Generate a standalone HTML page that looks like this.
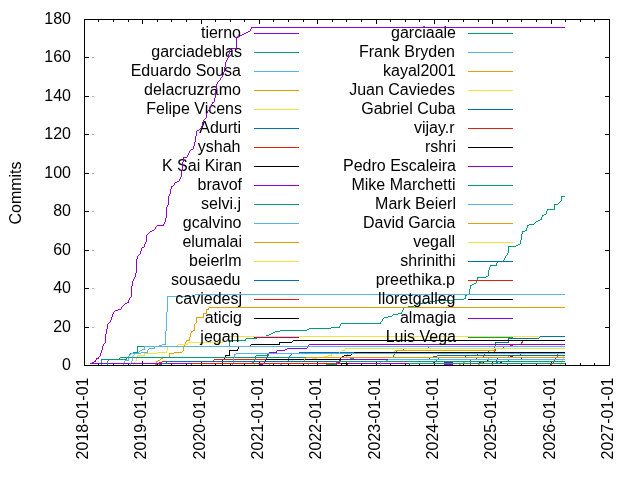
<!DOCTYPE html><html><head><meta charset="utf-8"><title>Commits</title><style>html,body{margin:0;padding:0;background:#fff}svg{display:block;shape-rendering:crispEdges}text{shape-rendering:auto;font-family:"Liberation Sans",Arial,sans-serif}</style></head><body><svg width="640" height="480" viewBox="0 0 640 480" font-size="16px" fill="#000"><rect width="640" height="480" fill="#fff"/><path d="M478 19h1v3h-1zM478 363h1v3h-1zM84 19h1v5h-1zM84 361h1v5h-1zM361 19h1v3h-1zM361 363h1v3h-1zM609 19h1v5h-1zM609 361h1v5h-1zM244 19h1v3h-1zM244 363h1v3h-1zM551 19h1v5h-1zM551 361h1v5h-1zM215 19h1v3h-1zM215 363h1v3h-1zM434 19h1v5h-1zM434 361h1v5h-1zM98 19h1v3h-1zM98 363h1v3h-1zM142 19h1v5h-1zM142 361h1v5h-1zM201 19h1v5h-1zM201 361h1v5h-1zM113 19h1v3h-1zM113 363h1v3h-1zM419 19h1v3h-1zM419 363h1v3h-1zM390 19h1v3h-1zM390 363h1v3h-1zM157 19h1v3h-1zM157 363h1v3h-1zM128 19h1v3h-1zM128 363h1v3h-1zM273 19h1v3h-1zM273 363h1v3h-1zM346 19h1v3h-1zM346 363h1v3h-1zM376 19h1v5h-1zM376 361h1v5h-1zM580 19h1v3h-1zM580 363h1v3h-1zM259 19h1v5h-1zM259 361h1v5h-1zM288 19h1v3h-1zM288 363h1v3h-1zM463 19h1v3h-1zM463 363h1v3h-1zM565 19h1v3h-1zM565 363h1v3h-1zM303 19h1v3h-1zM303 363h1v3h-1zM448 19h1v3h-1zM448 363h1v3h-1zM186 19h1v3h-1zM186 363h1v3h-1zM521 19h1v3h-1zM521 363h1v3h-1zM536 19h1v3h-1zM536 363h1v3h-1zM492 19h1v5h-1zM492 361h1v5h-1zM230 19h1v3h-1zM230 363h1v3h-1zM405 19h1v3h-1zM405 363h1v3h-1zM171 19h1v3h-1zM171 363h1v3h-1zM317 19h1v5h-1zM317 361h1v5h-1zM594 19h1v3h-1zM594 363h1v3h-1zM507 19h1v3h-1zM507 363h1v3h-1zM332 19h1v3h-1zM332 363h1v3h-1zM84 57h5v1h-5zM605 57h5v1h-5zM84 96h5v1h-5zM605 96h5v1h-5zM84 134h5v1h-5zM605 134h5v1h-5zM84 173h5v1h-5zM605 173h5v1h-5zM84 211h5v1h-5zM605 211h5v1h-5zM84 250h5v1h-5zM605 250h5v1h-5zM84 288h5v1h-5zM605 288h5v1h-5zM84 327h5v1h-5zM605 327h5v1h-5z" fill="#000"/><text x="71" y="370" text-anchor="end">0</text><path d="M92 327h2v1h-2z" fill="#aaa"/><text x="71" y="332" text-anchor="end">20</text><path d="M92 288h2v1h-2z" fill="#aaa"/><text x="71" y="293" text-anchor="end">40</text><path d="M92 250h2v1h-2z" fill="#aaa"/><text x="71" y="255" text-anchor="end">60</text><path d="M92 211h2v1h-2z" fill="#aaa"/><text x="71" y="216" text-anchor="end">80</text><path d="M92 173h2v1h-2z" fill="#aaa"/><text x="71" y="178" text-anchor="end">100</text><path d="M92 134h2v1h-2z" fill="#aaa"/><text x="71" y="139" text-anchor="end">120</text><path d="M92 96h2v1h-2z" fill="#aaa"/><text x="71" y="101" text-anchor="end">140</text><path d="M92 57h2v1h-2z" fill="#aaa"/><text x="71" y="62" text-anchor="end">160</text><text x="71" y="24" text-anchor="end">180</text><text transform="translate(88,459.4) rotate(-90)" >2018-01-01</text><text transform="translate(146,459.4) rotate(-90)" >2019-01-01</text><text transform="translate(205,459.4) rotate(-90)" >2020-01-01</text><text transform="translate(263,459.4) rotate(-90)" >2021-01-01</text><text transform="translate(321,459.4) rotate(-90)" >2022-01-01</text><text transform="translate(380,459.4) rotate(-90)" >2023-01-01</text><text transform="translate(438,459.4) rotate(-90)" >2024-01-01</text><text transform="translate(496,459.4) rotate(-90)" >2025-01-01</text><text transform="translate(555,459.4) rotate(-90)" >2026-01-01</text><text transform="translate(613,459.4) rotate(-90)" >2027-01-01</text><text transform="translate(21,193) rotate(-90)" text-anchor="middle">Commits</text><text x="241" y="38" text-anchor="end">tierno</text><path d="M254 33h45v1h-45z" fill="#9400d3"/><text x="242" y="57" text-anchor="end">garciadeblas</text><path d="M521 234h1v6h-1zM229 340h1v7h-1zM470 285h1v4h-1zM137 346h1v7h-1zM520 240h1v4h-1zM469 289h1v5h-1zM489 267h1v3h-1zM508 246h1v7h-1zM465 295h1v4h-1zM477 277h1v3h-1zM488 270h1v6h-1zM496 263h1v3h-1zM554 204h1v6h-1zM101 359h1v7h-1zM476 280h1v3h-1zM561 196h1v5h-1zM403 307h1v3h-1zM527 225h1v3h-1zM546 211h1v3h-1zM541 217h1v3h-1zM522 231h1v3h-1zM526 228h1v3h-1zM254 52h45v1h-45zM562 196h3v1h-3zM560 201h1v1h-1zM559 202h1v1h-1zM558 203h1v1h-1zM555 204h3v1h-3zM547 209h7v1h-7zM547 210h1v1h-1zM544 214h2v1h-2zM542 215h2v1h-2zM542 216h1v1h-1zM540 219h1v1h-1zM538 220h2v1h-2zM536 221h2v1h-2zM535 222h1v1h-1zM534 223h1v1h-1zM529 224h5v1h-5zM528 225h1v1h-1zM525 230h1v1h-1zM523 231h2v1h-2zM518 244h2v1h-2zM516 245h2v1h-2zM509 246h7v1h-7zM507 253h1v1h-1zM507 254h1v1h-1zM506 255h1v1h-1zM505 256h1v1h-1zM505 257h1v1h-1zM504 258h1v1h-1zM504 259h1v1h-1zM503 260h1v1h-1zM497 261h7v1h-7zM497 262h1v1h-1zM490 265h6v1h-6zM490 266h1v1h-1zM486 276h2v1h-2zM478 277h8v1h-8zM474 283h2v1h-2zM472 284h2v1h-2zM471 285h1v1h-1zM467 294h2v1h-2zM466 295h1v1h-1zM464 298h1v1h-1zM454 299h10v1h-10zM435 300h19v1h-19zM430 301h5v1h-5zM423 302h7v1h-7zM418 303h5v1h-5zM416 304h2v1h-2zM414 305h2v1h-2zM408 306h6v1h-6zM404 307h4v1h-4zM402 310h1v1h-1zM402 311h1v1h-1zM401 312h1v1h-1zM398 313h4v1h-4zM393 314h5v1h-5zM392 315h1v1h-1zM388 316h4v1h-4zM384 317h4v1h-4zM383 318h1v1h-1zM382 319h1v1h-1zM382 320h1v1h-1zM381 321h1v1h-1zM380 322h1v1h-1zM341 323h40v1h-40zM340 324h1v1h-1zM340 325h1v1h-1zM339 326h1v1h-1zM331 327h9v1h-9zM309 328h22v1h-22zM307 329h2v1h-2zM280 330h27v1h-27zM275 331h5v1h-5zM273 332h2v1h-2zM271 333h2v1h-2zM269 334h2v1h-2zM266 335h3v1h-3zM257 336h10v1h-10zM256 337h1v1h-1zM246 338h11v1h-11zM245 339h1v1h-1zM230 340h16v1h-16zM138 346h91v1h-91zM133 352h4v1h-4zM130 353h4v1h-4zM129 354h1v1h-1zM129 355h1v1h-1zM128 356h1v1h-1zM120 357h9v1h-9zM119 358h1v1h-1zM102 359h17v1h-17z" fill="#009e73"/><text x="241" y="76" text-anchor="end">Eduardo Sousa</text><path d="M165 331h1v14h-1zM166 312h1v19h-1zM144 346h1v4h-1zM128 356h1v5h-1zM167 296h1v16h-1zM123 363h1v3h-1zM254 71h45v1h-45zM195 294h370v1h-370zM194 295h1v1h-1zM168 296h27v1h-27zM162 344h3v1h-3zM159 345h3v1h-3zM145 346h14v1h-14zM142 349h2v1h-2zM140 350h2v1h-2zM139 351h1v1h-1zM138 352h1v1h-1zM131 353h7v1h-7zM130 354h1v1h-1zM129 355h1v1h-1zM125 360h3v1h-3zM124 361h1v1h-1zM124 362h1v1h-1z" fill="#56b4e9"/><text x="241" y="95" text-anchor="end">delacruzramo</text><path d="M169 353h1v5h-1zM196 317h1v6h-1zM183 347h1v4h-1zM203 313h1v5h-1zM194 324h1v7h-1zM206 309h1v5h-1zM190 333h1v4h-1zM189 337h1v4h-1zM185 342h1v3h-1zM254 90h45v1h-45zM209 307h356v1h-356zM208 308h1v1h-1zM207 309h2v1h-2zM204 313h2v1h-2zM197 317h6v1h-6zM195 323h1v1h-1zM193 330h1v1h-1zM191 331h2v1h-2zM191 332h1v1h-1zM186 340h3v1h-3zM186 341h1v1h-1zM184 345h1v1h-1zM184 346h1v1h-1zM182 351h1v1h-1zM174 352h8v1h-8zM170 353h4v1h-4zM508 356h1v1h-1zM163 357h6v1h-6zM161 358h2v1h-2zM488 358h1v1h-1zM160 359h1v1h-1zM158 360h2v1h-2zM488 360h1v1h-1zM156 361h2v1h-2zM156 362h1v1h-1zM463 362h2v1h-2zM481 362h2v1h-2zM155 363h1v1h-1zM155 364h1v1h-1zM459 364h2v1h-2zM478 364h2v1h-2z" fill="#e69f00"/><text x="242" y="114" text-anchor="end">Felipe Vicens</text><path d="M222 339h1v4h-1zM563 355h1v5h-1zM560 363h1v3h-1zM144 353h1v3h-1zM562 359h1v3h-1zM167 346h1v5h-1zM136 357h1v4h-1zM561 361h1v3h-1zM254 109h45v1h-45zM224 336h341v1h-341zM223 337h1v1h-1zM223 338h1v1h-1zM188 342h34v1h-34zM187 343h1v1h-1zM178 344h10v1h-10zM177 345h1v1h-1zM168 346h9v1h-9zM166 351h1v1h-1zM157 352h10v1h-10zM145 353h12v1h-12zM137 355h7v1h-7zM564 355h1v1h-1zM137 356h1v1h-1zM135 361h1v1h-1zM134 362h1v1h-1zM547 362h1v1h-1zM134 363h1v1h-1zM133 364h1v1h-1zM133 365h1v1h-1z" fill="#f0e442"/><text x="241" y="133" text-anchor="end">Adurti</text><path d="M488 350h1v3h-1zM494 347h1v4h-1zM495 342h1v5h-1zM159 363h1v3h-1zM288 358h1v4h-1zM166 361h1v3h-1zM508 338h1v5h-1zM254 128h45v1h-45zM540 336h25v1h-25zM539 337h1v1h-1zM509 338h30v1h-30zM496 342h12v1h-12zM489 350h5v1h-5zM299 352h189v1h-189zM292 353h7v1h-7zM291 354h1v1h-1zM477 354h1v1h-1zM290 355h1v1h-1zM289 356h1v1h-1zM465 356h1v1h-1zM289 357h1v1h-1zM429 358h1v1h-1zM438 358h1v1h-1zM436 360h1v1h-1zM508 360h1v1h-1zM167 361h121v1h-121zM433 362h1v1h-1zM496 362h2v1h-2zM160 363h6v1h-6zM492 364h1v1h-1zM507 364h1v1h-1z" fill="#0072b2"/><text x="240.5" y="152" text-anchor="end">yshah</text><path d="M476 357h1v3h-1zM522 340h1v3h-1zM494 350h1v3h-1zM503 346h1v3h-1zM555 357h1v3h-1zM521 342h1v3h-1zM554 359h1v3h-1zM470 359h1v7h-1zM557 353h1v5h-1zM553 361h1v3h-1zM484 352h1v4h-1zM495 348h1v3h-1zM483 355h1v3h-1zM254 147h45v1h-45zM523 340h42v1h-42zM513 344h8v1h-8zM510 345h3v1h-3zM504 346h6v1h-6zM496 348h7v1h-7zM485 352h9v1h-9zM558 353h7v1h-7zM477 357h6v1h-6zM556 357h1v1h-1zM471 359h5v1h-5zM162 361h308v1h-308zM471 361h82v1h-82zM555 361h10v1h-10zM159 362h3v1h-3zM156 363h3v1h-3zM552 363h1v1h-1zM156 364h1v1h-1zM550 364h2v1h-2zM549 365h1v1h-1z" fill="#e51e10"/><text x="242" y="171" text-anchor="end">K Sai Kiran</text><path d="M279 342h1v3h-1zM229 350h1v6h-1zM222 360h1v6h-1zM254 166h45v1h-45zM293 340h272v1h-272zM292 341h1v1h-1zM280 342h12v1h-12zM251 344h28v1h-28zM250 345h1v1h-1zM239 346h12v1h-12zM238 347h1v1h-1zM238 348h1v1h-1zM237 349h1v1h-1zM230 350h8v1h-8zM225 355h4v1h-4zM225 356h1v1h-1zM224 357h1v1h-1zM224 358h1v1h-1zM521 358h1v1h-1zM223 359h1v1h-1zM487 360h1v1h-1zM483 362h1v1h-1zM492 362h1v1h-1zM500 362h2v1h-2z" fill="#000000"/><text x="242" y="190" text-anchor="end">bravof</text><path d="M264 361h1v3h-1zM267 354h1v3h-1zM254 185h45v1h-45zM309 344h256v1h-256zM308 345h1v1h-1zM308 346h1v1h-1zM307 347h1v1h-1zM287 348h20v1h-20zM285 349h2v1h-2zM277 350h8v1h-8zM276 351h1v1h-1zM269 352h8v1h-8zM268 353h1v1h-1zM266 357h1v1h-1zM266 358h1v1h-1zM265 359h1v1h-1zM265 360h1v1h-1zM90 363h174v1h-174zM265 363h300v1h-300zM259 364h4v1h-4zM258 365h1v1h-1z" fill="#9400d3"/><text x="241" y="209" text-anchor="end">selvi.j</text><path d="M107 361h1v5h-1zM403 348h1v3h-1zM428 346h1v3h-1zM393 355h1v3h-1zM254 204h45v1h-45zM429 346h136v1h-136zM404 348h24v1h-24zM396 350h7v1h-7zM396 351h1v1h-1zM395 352h1v1h-1zM395 353h1v1h-1zM394 354h1v1h-1zM127 357h266v1h-266zM126 358h1v1h-1zM108 359h19v1h-19zM108 360h1v1h-1z" fill="#009e73"/><text x="241.5" y="228" text-anchor="end">gcalvino</text><path d="M130 363h1v3h-1zM132 356h1v5h-1zM147 350h1v3h-1zM254 223h45v1h-45zM155 346h410v1h-410zM154 347h1v1h-1zM149 348h6v1h-6zM148 349h1v1h-1zM141 352h6v1h-6zM135 353h6v1h-6zM134 354h1v1h-1zM133 355h1v1h-1zM131 361h1v1h-1zM131 362h1v1h-1z" fill="#56b4e9"/><text x="242" y="247" text-anchor="end">elumalai</text><path d="M347 353h1v3h-1zM494 348h1v3h-1zM346 355h1v3h-1zM394 351h1v3h-1zM254 242h45v1h-45zM495 348h70v1h-70zM395 350h99v1h-99zM348 353h46v1h-46z" fill="#e69f00"/><text x="241.5" y="266" text-anchor="end">beierlm</text><path d="M259 361h1v3h-1zM254 363h1v3h-1zM254 261h45v1h-45zM345 348h220v1h-220zM344 349h1v1h-1zM341 350h4v1h-4zM340 351h1v1h-1zM339 352h1v1h-1zM332 353h8v1h-8zM331 354h1v1h-1zM328 355h4v1h-4zM324 356h4v1h-4zM317 357h7v1h-7zM312 358h5v1h-5zM293 359h19v1h-19zM291 360h2v1h-2zM260 361h31v1h-31zM255 363h4v1h-4z" fill="#f0e442"/><text x="240.5" y="285" text-anchor="end">sousaedu</text><path d="M254 280h45v1h-45z" fill="#0072b2"/><text x="242" y="304" text-anchor="end">caviedesj</text><path d="M254 299h45v1h-45zM214 359h351v1h-351zM213 360h1v1h-1z" fill="#e51e10"/><text x="242" y="323" text-anchor="end">aticig</text><path d="M259 361h1v5h-1zM254 318h45v1h-45zM354 352h211v1h-211zM352 353h2v1h-2zM351 354h1v1h-1zM344 355h7v1h-7zM342 356h2v1h-2zM341 357h1v1h-1zM340 358h1v1h-1zM266 359h75v1h-75zM265 360h1v1h-1zM260 361h6v1h-6z" fill="#000000"/><text x="239.5" y="342" text-anchor="end">jegan</text><path d="M339 360h1v3h-1zM336 362h1v4h-1zM254 337h45v1h-45zM341 359h224v1h-224zM340 360h1v1h-1zM337 362h2v1h-2z" fill="#9400d3"/><text x="456" y="38" text-anchor="end">garciaale</text><path d="M255 356h1v4h-1zM268 353h1v3h-1zM468 33h45v1h-45zM269 353h296v1h-296zM256 355h12v1h-12zM350 358h4v1h-4zM254 360h1v1h-1zM254 361h1v1h-1zM252 362h2v1h-2zM252 363h1v1h-1z" fill="#009e73"/><text x="455" y="57" text-anchor="end">Frank Bryden</text><path d="M233 358h1v6h-1zM234 354h1v4h-1zM468 52h45v1h-45zM236 353h329v1h-329zM235 354h1v1h-1zM232 364h1v1h-1zM269 364h1v1h-1zM280 364h2v1h-2zM308 364h1v1h-1zM232 365h1v1h-1zM269 365h1v1h-1zM308 365h1v1h-1z" fill="#56b4e9"/><text x="456" y="76" text-anchor="end">kayal2001</text><path d="M468 71h45v1h-45zM306 357h259v1h-259zM305 358h1v1h-1zM304 359h1v1h-1zM304 360h1v1h-1z" fill="#e69f00"/><text x="455" y="95" text-anchor="end">Juan Caviedes</text><path d="M468 90h45v1h-45z" fill="#f0e442"/><text x="455.5" y="114" text-anchor="end">Gabriel Cuba</text><path d="M166 361h1v3h-1zM468 109h45v1h-45zM437 355h128v1h-128zM433 356h4v1h-4zM167 361h398v1h-398zM162 363h4v1h-4zM159 364h3v1h-3z" fill="#0072b2"/><text x="454.5" y="133" text-anchor="end">vijay.r</text><path d="M468 128h45v1h-45zM347 361h218v1h-218zM346 362h1v1h-1zM192 363h155v1h-155zM191 364h1v1h-1zM190 365h1v1h-1z" fill="#e51e10"/><text x="456" y="152" text-anchor="end">rshri</text><path d="M341 363h1v3h-1zM468 147h45v1h-45zM342 363h223v1h-223z" fill="#000000"/><text x="456" y="171" text-anchor="end">Pedro Escaleira</text><path d="M468 166h45v1h-45zM348 363h217v1h-217zM347 364h1v1h-1zM346 365h1v1h-1z" fill="#9400d3"/><text x="455.5" y="190" text-anchor="end">Mike Marchetti</text><path d="M409 363h1v3h-1zM468 185h45v1h-45zM410 363h155v1h-155z" fill="#009e73"/><text x="456" y="209" text-anchor="end">Mark Beierl</text><path d="M380 361h1v5h-1zM468 204h45v1h-45zM388 359h177v1h-177zM386 360h2v1h-2zM381 361h6v1h-6z" fill="#56b4e9"/><text x="455.5" y="228" text-anchor="end">David Garcia</text><path d="M468 223h45v1h-45z" fill="#e69f00"/><text x="455" y="247" text-anchor="end">vegall</text><path d="M468 242h45v1h-45z" fill="#f0e442"/><text x="455.5" y="266" text-anchor="end">shrinithi</text><path d="M468 261h45v1h-45z" fill="#0072b2"/><text x="455" y="285" text-anchor="end">preethika.p</text><path d="M468 280h45v1h-45z" fill="#e51e10"/><text x="455.5" y="304" text-anchor="end">lloretgalleg</text><path d="M468 299h45v1h-45z" fill="#000000"/><text x="456" y="323" text-anchor="end">almagia</text><path d="M468 318h45v1h-45z" fill="#9400d3"/><text x="456" y="342" text-anchor="end">Luis Vega</text><path d="M468 337h45v1h-45zM336 361h229v1h-229zM336 362h1v1h-1zM335 363h1v1h-1zM326 364h10v1h-10zM324 365h2v1h-2z" fill="#009e73"/><path d="M137 256h1v3h-1zM181 171h1v6h-1zM136 259h1v14h-1zM193 146h1v3h-1zM128 300h1v3h-1zM141 248h1v3h-1zM132 281h1v5h-1zM144 244h1v3h-1zM168 196h1v9h-1zM202 122h1v4h-1zM214 98h1v4h-1zM140 251h1v3h-1zM196 131h1v5h-1zM225 62h1v5h-1zM107 324h1v5h-1zM229 50h1v4h-1zM131 286h1v11h-1zM112 314h1v3h-1zM111 317h1v3h-1zM135 273h1v4h-1zM102 346h1v4h-1zM224 67h1v5h-1zM236 37h1v12h-1zM216 84h1v6h-1zM106 329h1v5h-1zM215 90h1v8h-1zM195 136h1v6h-1zM146 235h1v7h-1zM166 207h1v11h-1zM170 189h1v5h-1zM183 157h1v5h-1zM182 162h1v9h-1zM194 142h1v4h-1zM228 54h1v4h-1zM171 186h1v3h-1zM101 350h1v3h-1zM105 334h1v9h-1zM165 218h1v4h-1zM223 72h1v3h-1zM206 113h1v5h-1zM100 353h1v3h-1zM251 27h314v1h-314zM251 28h1v1h-1zM250 29h1v1h-1zM250 30h1v1h-1zM248 31h2v1h-2zM246 32h2v1h-2zM244 33h2v1h-2zM242 34h2v1h-2zM240 35h2v1h-2zM238 36h2v1h-2zM237 37h1v1h-1zM231 48h5v1h-5zM230 49h1v1h-1zM227 58h1v1h-1zM227 59h1v1h-1zM226 60h1v1h-1zM226 61h1v1h-1zM222 75h1v1h-1zM222 76h1v1h-1zM221 77h1v1h-1zM220 78h1v1h-1zM220 79h1v1h-1zM219 80h1v1h-1zM218 81h1v1h-1zM217 82h1v1h-1zM217 83h1v1h-1zM212 102h2v1h-2zM212 103h1v1h-1zM211 104h1v1h-1zM211 105h1v1h-1zM210 106h1v1h-1zM210 107h1v1h-1zM209 108h1v1h-1zM209 109h1v1h-1zM208 110h1v1h-1zM207 111h1v1h-1zM207 112h1v1h-1zM205 118h1v1h-1zM204 119h1v1h-1zM203 120h1v1h-1zM203 121h1v1h-1zM201 126h1v1h-1zM201 127h1v1h-1zM200 128h1v1h-1zM199 129h1v1h-1zM197 130h2v1h-2zM191 149h2v1h-2zM190 150h1v1h-1zM189 151h1v1h-1zM189 152h1v1h-1zM188 153h1v1h-1zM188 154h1v1h-1zM187 155h1v1h-1zM187 156h1v1h-1zM184 157h3v1h-3zM180 177h1v1h-1zM180 178h1v1h-1zM179 179h1v1h-1zM179 180h1v1h-1zM177 181h2v1h-2zM175 182h2v1h-2zM174 183h1v1h-1zM174 184h1v1h-1zM173 185h1v1h-1zM172 186h1v1h-1zM169 194h1v1h-1zM169 195h1v1h-1zM167 205h1v1h-1zM167 206h1v1h-1zM164 222h1v1h-1zM164 223h1v1h-1zM163 224h1v1h-1zM157 225h7v1h-7zM156 226h1v1h-1zM155 227h1v1h-1zM155 228h1v1h-1zM154 229h1v1h-1zM152 230h2v1h-2zM150 231h2v1h-2zM149 232h1v1h-1zM148 233h1v1h-1zM147 234h1v1h-1zM145 242h1v1h-1zM145 243h1v1h-1zM142 247h2v1h-2zM139 254h1v1h-1zM138 255h1v1h-1zM134 277h1v1h-1zM134 278h1v1h-1zM133 279h1v1h-1zM133 280h1v1h-1zM130 297h1v1h-1zM129 298h1v1h-1zM129 299h1v1h-1zM127 302h1v1h-1zM125 303h2v1h-2zM124 304h1v1h-1zM123 305h1v1h-1zM122 306h1v1h-1zM121 307h1v1h-1zM121 308h1v1h-1zM118 309h3v1h-3zM115 310h3v1h-3zM114 311h1v1h-1zM113 312h1v1h-1zM113 313h1v1h-1zM110 320h1v1h-1zM110 321h1v1h-1zM109 322h1v1h-1zM108 323h1v1h-1zM104 343h1v1h-1zM103 344h1v1h-1zM103 345h1v1h-1zM520 354h1v1h-1zM99 356h1v1h-1zM510 356h3v1h-3zM98 357h1v1h-1zM96 358h3v1h-3zM497 358h1v1h-1zM96 359h1v1h-1zM95 360h1v1h-1zM496 360h1v1h-1zM94 361h2v1h-2zM92 362h2v1h-2zM444 362h9v1h-9zM479 362h2v1h-2zM90 363h2v1h-2zM444 364h9v1h-9z" fill="#9400d3"/><path d="M609 19h1v347h-1zM84 19h1v347h-1zM85 19h524v1h-524zM85 365h524v1h-524z" fill="#000"/></svg></body></html>
